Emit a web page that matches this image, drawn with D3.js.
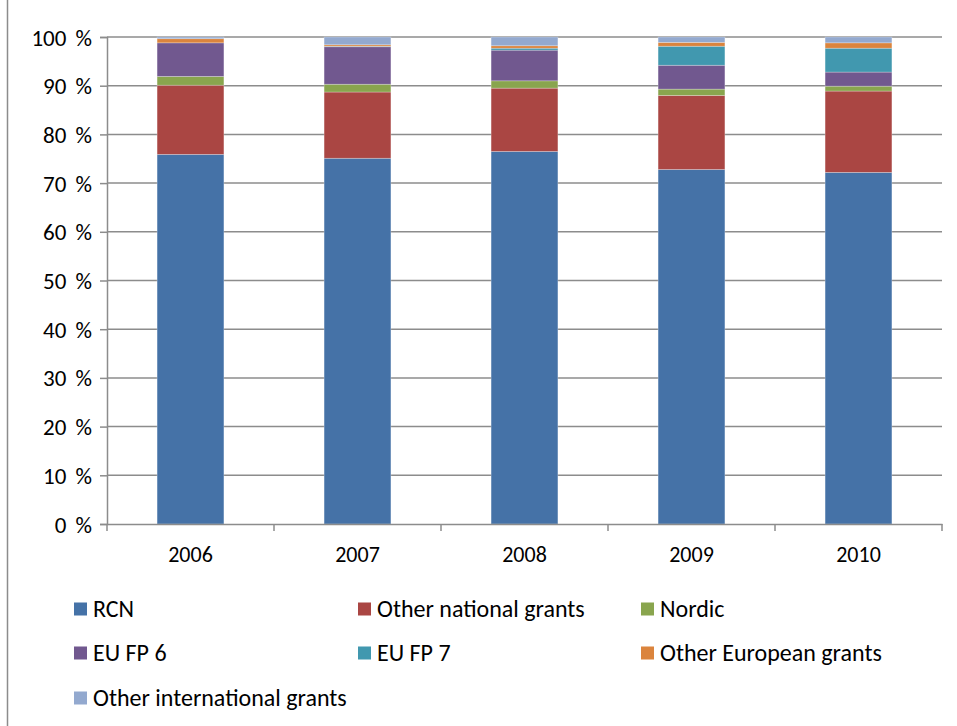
<!DOCTYPE html>
<html>
<head>
<meta charset="utf-8">
<script src="https://cdn.jsdelivr.net/npm/d3@7"></script>
<style>
  body { margin: 0; background: #fff; }
  text { font-family: Carlito, Calibri, Lato, "Open Sans", sans-serif; fill: #000; }
</style>
</head>
<body>
<script>
const years = ["2006", "2007", "2008", "2009", "2010"];
const seriesNames = ["RCN", "Other national grants", "Nordic", "EU FP 6", "EU FP 7", "Other European grants", "Other international grants"];
const seriesColors = ["#4572A7", "#AA4643", "#89A54E", "#71588F", "#4198AF", "#DB843D", "#93A9CF"];

// percent shares per year, one array per series
const rcn       = [75.9, 75.1, 76.5, 72.8, 72.2];
const otherNat  = [14.2, 13.6, 13.0, 15.2, 16.7];
const nordic    = [1.8, 1.6, 1.5, 1.3, 1.0];
const euFp6     = [6.9, 7.7, 6.3, 4.9, 2.9];
const euFp7     = [0.0, 0.1, 0.4, 3.9, 4.9];
const otherEu   = [0.85, 0.3, 0.5, 0.8, 1.1];
const otherIntl = [0.35, 1.6, 1.8, 1.1, 1.2];

const yTicks = [0, 10, 20, 30, 40, 50, 60, 70, 80, 90, 100];

const config = {
    width: 957,
    height: 726,
    left: 107,
    right: 942,
    top: 37,
    bottom: 524
};

const seriesValues = [rcn, otherNat, nordic, euFp6, euFp7, otherEu, otherIntl];
const table = years.map((y, i) => {
    const row = { year: y };
    seriesNames.forEach((s, k) => row[s] = seriesValues[k][i]);
    return row;
});

const svg = d3.select("body").append("svg")
    .attr("width", config.width)
    .attr("height", config.height);

// outer chart frame
svg.append("rect")
    .attr("x", 7.5).attr("y", -5)
    .attr("width", 1000).attr("height", 740)
    .style("fill", "none")
    .style("stroke", "#8c8c8c")
    .style("stroke-width", 1.5);

const x = d3.scaleBand().domain(years).range([config.left, config.right]).padding(0);
const y = d3.scaleLinear().domain([0, 100]).range([config.bottom, config.top]);

// gridlines
svg.append("g").selectAll("line")
    .data(yTicks.filter(t => t > 0))
    .enter().append("line")
    .attr("x1", config.left).attr("x2", config.right)
    .attr("y1", d => y(d)).attr("y2", d => y(d))
    .style("stroke", "#8c8c8c")
    .style("stroke-width", 1.5);

// stacked bars
const stacked = d3.stack().keys(seriesNames)(table);
const bw = x.bandwidth() * 0.4;

svg.append("g").selectAll("g")
    .data(stacked)
    .enter().append("g")
    .style("fill", (d, i) => seriesColors[i])
    .selectAll("rect")
    .data(d => d)
    .enter().append("rect")
    .attr("x", d => x(d.data.year) + (x.bandwidth() - bw) / 2)
    .attr("width", bw)
    .attr("y", d => y(d[1]))
    .attr("height", d => Math.max(0, y(d[0]) - y(d[1])))
    .style("stroke", "rgba(255,255,255,0.35)")
    .style("stroke-width", 0.75);

// y axis
const yAxis = svg.append("g")
    .attr("transform", `translate(${config.left},0)`)
    .call(d3.axisLeft(y).tickValues(yTicks).tickSize(7).tickPadding(8).tickFormat(d => d + " %"));
yAxis.select(".domain").style("stroke", "#8c8c8c").style("stroke-width", 1.5);
yAxis.selectAll(".tick line").style("stroke", "#8c8c8c").style("stroke-width", 1.5);
yAxis.selectAll(".tick text").style("font-size", "23px").style("word-spacing", "4px").attr("dy", "0.35em");

// x axis
const xAxis = svg.append("g")
    .attr("transform", `translate(0,${config.bottom})`)
    .call(d3.axisBottom(x).tickSize(0).tickPadding(22));
xAxis.select(".domain").style("stroke", "#8c8c8c").style("stroke-width", 1.5);
xAxis.selectAll(".tick text").style("font-size", "22px");

// x boundary ticks between categories
svg.append("g").selectAll("line")
    .data(years.concat(["end"]))
    .enter().append("line")
    .attr("x1", (d, i) => config.left + i * x.step())
    .attr("x2", (d, i) => config.left + i * x.step())
    .attr("y1", config.bottom).attr("y2", config.bottom + 7)
    .style("stroke", "#8c8c8c")
    .style("stroke-width", 1.5);

// legend
const legendCols = [74, 358, 641];
const legendRows = [609, 653, 698];
const legend = svg.append("g").selectAll("g")
    .data(seriesNames)
    .enter().append("g")
    .attr("transform", (d, i) => `translate(${legendCols[i % 3]},${legendRows[Math.floor(i / 3)]})`);

legend.append("rect")
    .attr("x", 0).attr("y", -6.5)
    .attr("width", 13).attr("height", 13)
    .style("fill", (d, i) => seriesColors[i]);

legend.append("text")
    .attr("x", 19).attr("y", 0)
    .attr("dy", "0.35em")
    .style("font-size", "24px")
    .text(d => d);
</script>
</body>
</html>
